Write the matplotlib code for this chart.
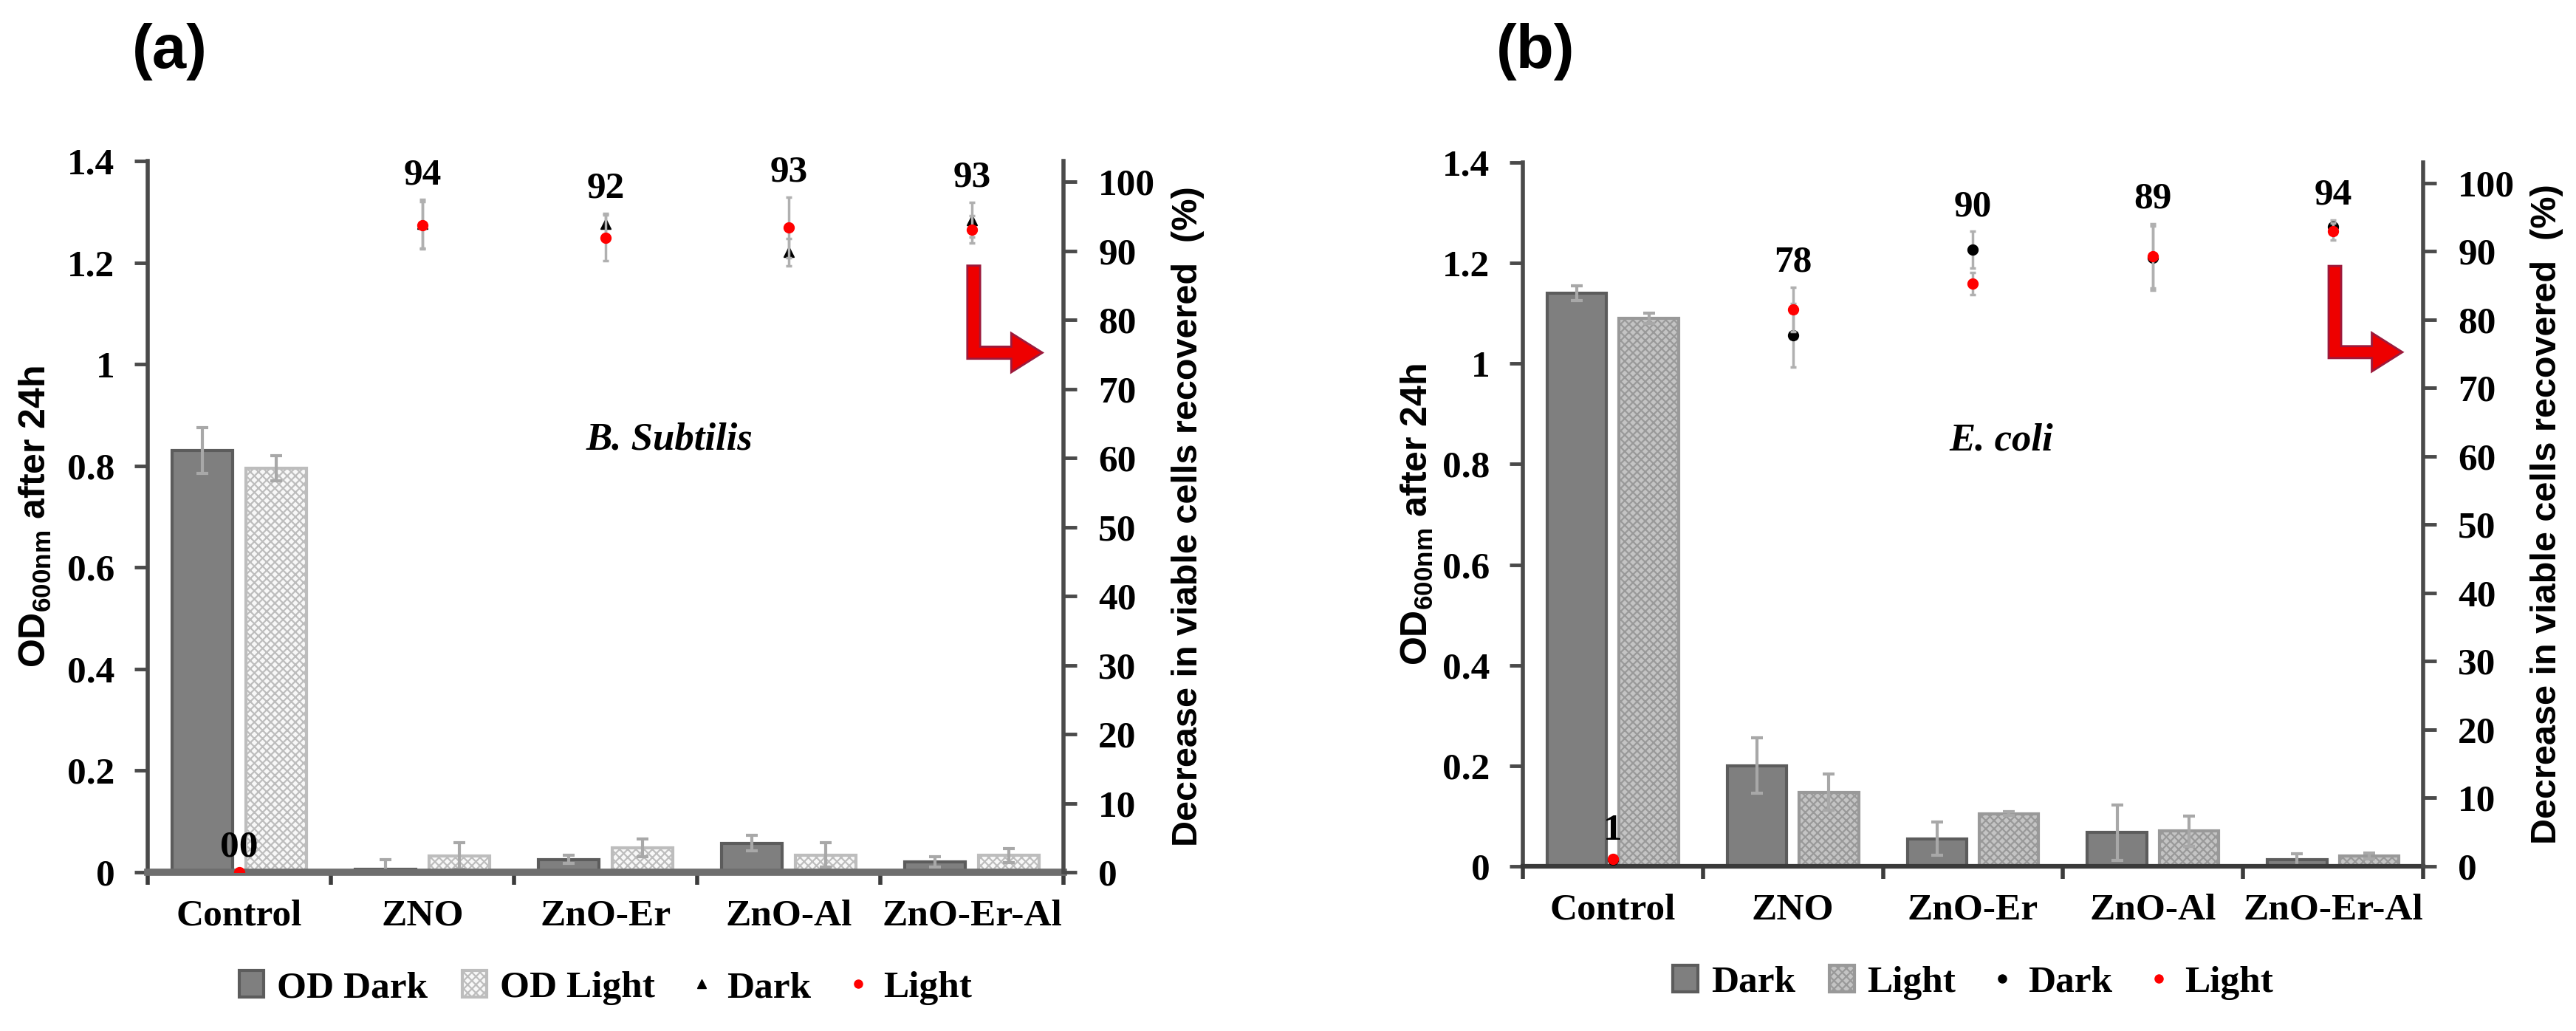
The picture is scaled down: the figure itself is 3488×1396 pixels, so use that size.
import numpy as np
import matplotlib
matplotlib.use("Agg")
import matplotlib.pyplot as plt
from matplotlib.lines import Line2D
from matplotlib.patches import Polygon
from matplotlib.ticker import FuncFormatter

plt.rcParams['font.family'] = ['Liberation Serif', 'DejaVu Serif']
plt.rcParams['font.weight'] = 'bold'
plt.rcParams['mathtext.fontset'] = 'custom'
plt.rcParams['mathtext.rm'] = 'Liberation Sans:bold'
plt.rcParams['mathtext.bf'] = 'Liberation Sans:bold'
plt.rcParams['hatch.linewidth'] = 1.6

categories = ["Control", "ZNO", "ZnO-Er", "ZnO-Al", "ZnO-Er-Al"]

# (a) B. Subtilis -- OD bars (left axis) and % decrease points (right axis)
od_dark_a = [0.83, 0.006, 0.025, 0.057, 0.02]
od_dark_err_a = [0.045, 0.018, 0.008, 0.015, 0.01]
od_light_a = [0.795, 0.032, 0.048, 0.034, 0.033]
od_light_err_a = [0.025, 0.026, 0.017, 0.024, 0.014]
pct_dark_a = [0, 93.9, 93.9, 89.8, 94.5]
pct_dark_err_a = [0, 3.5, 1.5, 2.0, 2.5]
pct_light_a = [0, 93.7, 91.9, 93.4, 93.1]
pct_light_err_a = [0, 3.4, 3.3, 4.4, 2.0]
pct_labels_a = ["00", "94", "92", "93", "93"]

# (b) E. coli
od_dark_b = [1.14, 0.20, 0.055, 0.067, 0.013]
od_dark_err_b = [0.015, 0.055, 0.033, 0.055, 0.012]
od_light_b = [1.09, 0.147, 0.105, 0.07, 0.02]
od_light_err_b = [0.01, 0.036, 0.003, 0.03, 0.006]
pct_dark_b = [1.0, 77.7, 90.2, 89.0, 93.6]
pct_dark_err_b = [0.5, 4.6, 2.7, 4.7, 1.0]
pct_light_b = [1.1, 81.5, 85.3, 89.3, 92.9]
pct_light_err_b = [0.5, 3.2, 1.6, 4.7, 1.2]
pct_labels_b = ["1", "78", "90", "89", "94"]

SANS = 'Liberation Sans'
FS = 37


def draw_panel(fig, rect, od_dark, od_dark_err, od_light, od_light_err,
               pct_dark, pct_dark_err, pct_light, pct_light_err, pct_labels,
               species, species_xy, names, dark_style, light_style, dark_marker,
               base_color, base_lw, ylab_x, yrlab_x, leg_y):
    ax = fig.add_axes(rect)
    x = np.arange(len(categories))
    w = 0.33
    b1 = ax.bar(x - 0.2, od_dark, w, **dark_style, zorder=2)
    b2 = ax.bar(x + 0.2, od_light, w, **light_style, zorder=2)
    ax.errorbar(x - 0.2, od_dark, yerr=od_dark_err, fmt='none', ecolor='#a8a8a8',
                elinewidth=3, capsize=6, capthick=3, zorder=3)
    ax.errorbar(x + 0.2, od_light, yerr=od_light_err, fmt='none', ecolor='#a8a8a8',
                elinewidth=3, capsize=6, capthick=3, zorder=3)

    ax.set_xlim(-0.5, len(categories) - 0.5)
    ax.set_ylim(0, 1.4)
    ax.set_yticks(np.arange(0, 1.41, 0.2))
    ax.yaxis.set_major_formatter(FuncFormatter(lambda v, p: '%g' % round(v, 1)))
    ax.set_xticks(x)
    ax.set_xticklabels(categories)
    ax.set_xticks(np.arange(-0.5, len(categories), 1), minor=True)
    ax.tick_params(axis='x', which='major', length=0, pad=26, labelsize=FS)
    ax.tick_params(axis='x', which='minor', length=12, width=4, color='#3c3c3c', direction='out')
    ax.tick_params(axis='y', length=13, width=3.5, color='#4a4a4a', pad=19, labelsize=FS)
    for s in ('top', 'right'):
        ax.spines[s].set_visible(False)
    ax.spines['left'].set_linewidth(4)
    ax.spines['left'].set_color('#4a4a4a')
    ax.spines['bottom'].set_linewidth(base_lw)
    ax.spines['bottom'].set_color(base_color)
    ax.spines['bottom'].set_zorder(4)

    ax.set_ylabel(r'OD$_{\mathbf{600nm}}$ after 24h', fontfamily=SANS, fontsize=36,
                  fontweight='bold')
    ax.yaxis.set_label_coords(ylab_x, 0.5)

    ax2 = ax.twinx()
    ax2.set_ylim(0, 103)
    ax2.set_yticks(np.arange(0, 101, 10))
    ax2.tick_params(axis='y', length=13, width=3.5, color='#4a4a4a', pad=21, labelsize=FS)
    for s in ('top', 'left', 'bottom'):
        ax2.spines[s].set_visible(False)
    ax2.spines['right'].set_linewidth(4)
    ax2.spines['right'].set_color('#4a4a4a')
    ax2.set_ylabel('Decrease in viable cells recovered  (%)', fontfamily=SANS,
                   fontsize=35, fontweight='bold')
    ax2.yaxis.set_label_coords(yrlab_x, 0.5)

    ax2.errorbar(x, pct_dark, yerr=pct_dark_err, fmt=dark_marker, color='black', ms=10,
                 ecolor='#b0b0b0', elinewidth=2.5, capsize=3, capthick=2.5, zorder=3)
    ax2.errorbar(x, pct_light, yerr=pct_light_err, fmt='o', color='#ff0000', ms=10,
                 ecolor='#b0b0b0', elinewidth=2.5, capsize=3, capthick=2.5, zorder=4)
    for i, lab in enumerate(pct_labels):
        top = max(pct_dark[i] + pct_dark_err[i], pct_light[i] + pct_light_err[i])
        ax2.annotate(lab, (x[i], top), xytext=(0, 24), textcoords='offset points',
                     ha='center', va='center', fontsize=FS, fontweight='bold')

    ax2.text(species_xy[0], species_xy[1], species, transform=ax2.transAxes,
             ha='center', va='center', fontsize=38, fontstyle='italic', fontweight='bold')

    # red L-shaped arrow pointing to the right axis
    arrow = Polygon([(0.895, 0.853), (0.909, 0.853), (0.909, 0.739), (0.943, 0.739),
                     (0.943, 0.758), (0.977, 0.7305), (0.943, 0.703), (0.943, 0.722),
                     (0.895, 0.722)], closed=True, transform=ax2.transAxes,
                    facecolor='#ee0000', edgecolor='#9c1a3c', lw=2, clip_on=False, zorder=5)
    ax2.add_patch(arrow)

    handles = [b1, b2,
               Line2D([], [], ls='none', marker=dark_marker, color='black', ms=8),
               Line2D([], [], ls='none', marker='o', color='#ff0000', ms=8)]
    ax2.legend(handles, names, loc='center', bbox_to_anchor=(0.5, leg_y), ncol=4,
               frameon=False, fontsize=FS, handlelength=0.65, handleheight=0.7,
               handletextpad=0.35, columnspacing=0.9)
    return ax, ax2


fig = plt.figure(figsize=(34.88, 13.96), dpi=100)

draw_panel(fig, [0.05734, 0.15401, 0.3555, 0.6898],
           od_dark_a, od_dark_err_a, od_light_a, od_light_err_a,
           pct_dark_a, pct_dark_err_a, pct_light_a, pct_light_err_a, pct_labels_a,
           'B. Subtilis', (0.57, 0.608), ['OD Dark', 'OD Light', 'Dark', 'Light'],
           dict(color='#7f7f7f', edgecolor='#5c5c5c', linewidth=3),
           dict(color='#f8f8f8', edgecolor='#bdbdbd', linewidth=3, hatch='xxx'),
           '^', '#6e6e6e', 7, -0.103, 1.118, -0.163)

draw_panel(fig, [0.59117, 0.15974, 0.34948, 0.6827],
           od_dark_b, od_dark_err_b, od_light_b, od_light_err_b,
           pct_dark_b, pct_dark_err_b, pct_light_b, pct_light_err_b, pct_labels_b,
           'E. coli', (0.531, 0.605), ['Dark', 'Light', 'Dark', 'Light'],
           dict(color='#7f7f7f', edgecolor='#5c5c5c', linewidth=3),
           dict(color='#c4c4c4', edgecolor='#999999', linewidth=3, hatch='xxx'),
           'o', '#3a3a3a', 4.5, -0.098, 1.119, -0.165)

fig.text(0.0659, 0.95, '(a)', fontfamily=SANS, fontsize=60, fontweight='bold',
         ha='center', va='center')
fig.text(0.596, 0.95, '(b)', fontfamily=SANS, fontsize=60, fontweight='bold',
         ha='center', va='center')

fig.savefig('out.png', dpi=100)
